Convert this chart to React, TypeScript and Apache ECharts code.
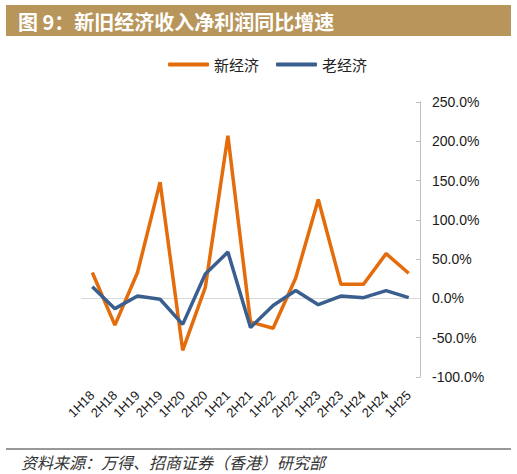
import React, { useEffect, useRef } from 'react';
import * as echarts from 'echarts';

const categories = ['1H18', '2H18', '1H19', '2H19', '1H20', '2H20', '1H21', '2H21', '1H22', '2H22', '1H23', '2H23', '1H24', '2H24', '1H25'];
const newEconomy = [33, -34, 33, 148, -66, 14, 207, -30, -38, 26, 126, 18, 18, 57, 32];
const oldEconomy = [15, -13, 3, -1, -33, 31, 59, -37, -9, 10, -8, 3, 1, 10, 1];
const yTicks = { min: -100, max: 250, interval: 50 };

const ORANGE = '#E46C0A';
const BLUE = '#3A5F8F';
const CJK = '"Noto Sans CJK SC", sans-serif';
const LATIN = '"Liberation Sans", Arial, sans-serif';

const App: React.FC = () => {
  const chartRef = useRef<HTMLDivElement>(null);

  useEffect(() => {
    if (!chartRef.current) return;
    const chart = echarts.init(chartRef.current, undefined, { renderer: 'svg' });
    const option = {
      animation: false,
      legend: {
        data: ['新经济', '老经济'],
        left: 163,
        top: 52,
        icon: 'roundRect',
        itemWidth: 41,
        itemHeight: 4,
        itemGap: 17,
        textStyle: { fontFamily: CJK, fontSize: 15, color: '#222', padding: [0, 0, 0, 0] },
      },
      grid: { left: 81, right: 97, top: 102, bottom: 97, containLabel: false },
      xAxis: {
        type: 'category',
        data: categories,
        boundaryGap: true,
        axisLine: { show: false, onZero: false },
        axisTick: { show: false },
        axisLabel: { interval: 0, rotate: 45, margin: 16, fontSize: 13, fontFamily: LATIN, color: '#1a1a1a' },
      },
      yAxis: {
        type: 'value',
        position: 'right',
        min: yTicks.min,
        max: yTicks.max,
        interval: yTicks.interval,
        axisLine: { show: true, lineStyle: { color: '#BFBFBF', width: 1 } },
        axisTick: { show: true, inside: true, length: 4, lineStyle: { color: '#BFBFBF' } },
        splitLine: { show: false },
        axisLabel: {
          margin: 12,
          fontSize: 14,
          fontFamily: LATIN,
          color: '#1a1a1a',
          formatter: (v: number) => v.toFixed(1) + '%',
        },
      },
      series: [
        {
          name: '新经济',
          type: 'line',
          data: newEconomy,
          symbol: 'none',
          lineStyle: { color: ORANGE, width: 3.5 },
          itemStyle: { color: ORANGE },
          z: 3,
          markLine: {
            silent: true,
            symbol: 'none',
            label: { show: false },
            lineStyle: { color: '#D9D9D9', type: 'solid', width: 1 },
            data: [{ yAxis: 0 }],
            z: 1,
          },
        },
        {
          name: '老经济',
          type: 'line',
          data: oldEconomy,
          symbol: 'none',
          lineStyle: { color: BLUE, width: 3.5 },
          itemStyle: { color: BLUE },
          z: 4,
        },
      ],
      graphic: [
        {
          type: 'rect',
          shape: { x: 6, y: 5, width: 505, height: 31 },
          style: { fill: '#B8955A' },
        },
        {
          type: 'text',
          x: 18,
          y: 21,
          style: {
            text: '图 9：新旧经济收入净利润同比增速',
            fill: '#fff',
            font: 'bold 20px "Noto Sans CJK SC", sans-serif',
            verticalAlign: 'middle',
          },
        },
        {
          type: 'line',
          shape: { x1: 6, y1: 449, x2: 511, y2: 449 },
          style: { stroke: '#333', lineWidth: 1 },
        },
        {
          type: 'text',
          x: 21,
          y: 462,
          style: {
            text: '资料来源：万得、招商证券（香港）研究部',
            fill: '#333',
            font: 'italic 16px "Noto Sans CJK SC", sans-serif',
            verticalAlign: 'middle',
          },
        },
      ],
    };
    chart.setOption(option);
    return () => chart.dispose();
  }, []);

  return (
    <div
      ref={chartRef}
      style={{ position: 'absolute', left: 0, top: 0, width: 517, height: 474, background: '#fff' }}
    />
  );
};

export default App;
